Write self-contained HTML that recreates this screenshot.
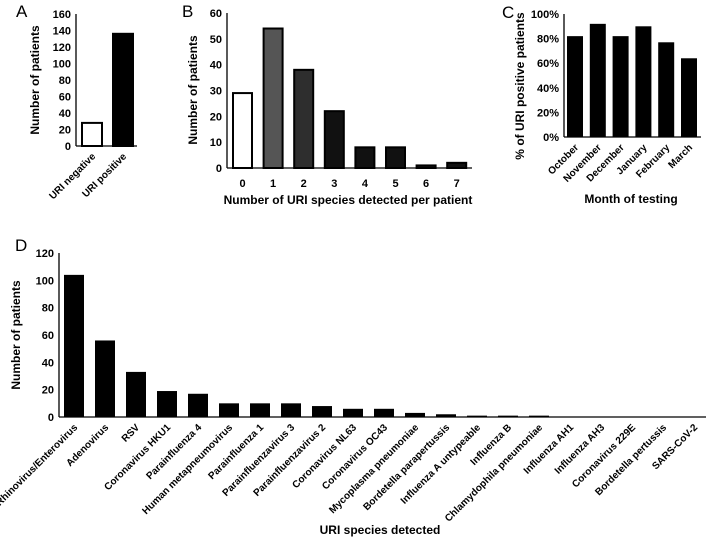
<!DOCTYPE html>
<html><head><meta charset="utf-8"><style>
html,body{margin:0;padding:0;background:#fff;}
svg{display:block;font-family:"Liberation Sans",sans-serif;}
text{fill:#000;}
.t{font-size:10px;font-weight:bold;}
.ty{font-size:11px;font-weight:bold;}
.ttl{font-size:12px;font-weight:bold;}
.pl{font-size:17px;}
</style></head><body>
<svg id="s" width="709" height="542" viewBox="0 0 709 542" xmlns="http://www.w3.org/2000/svg">
<text class="pl" x="16" y="17">A</text>
<text class="pl" x="182" y="17">B</text>
<text class="pl" x="502" y="18">C</text>
<text class="pl" x="15" y="251">D</text>
<g id="gA"></g><g id="gB"></g><g id="gC"></g><g id="gD"></g>
</svg>
<script>
// Panel A
const catsA = ["URI negative","URI positive"];
const valsA = [28,136];
const ticksA = [0,20,40,60,80,100,120,140,160];
// Panel B
const catsB = ["0","1","2","3","4","5","6","7"];
const valsB = [29,54,38,22,8,8,1,2];
const ticksB = [0,10,20,30,40,50,60];
// Panel C
const catsC = ["October","November","December","January","February","March"];
const valsC = [82,92,82,90,77,64];
const ticksC = [0,20,40,60,80,100];
// Panel D
const catsD = ["Rhinovirus/Enterovirus","Adenovirus","RSV","Coronavirus HKU1","Parainfluenza 4","Human metapneumovirus","Parainfluenza 1","Parainfluenzavirus 3","Parainfluenzavirus 2","Coronavirus NL63","Coronavirus OC43","Mycoplasma pneumoniae","Bordetella parapertussis","Influenza A untypeable","Influenza B","Chlamydophila pneumoniae","Influenza AH1","Influenza AH3","Coronavirus 229E","Bordetella pertussis","SARS-CoV-2"];
const valsD = [104,56,33,19,17,10,10,10,8,6,6,3,2,1,1,1,0,0,0,0,0];
const ticksD = [0,20,40,60,80,100,120];

const NS="http://www.w3.org/2000/svg";
function mk(tag,attrs,parent,txt){const e=document.createElementNS(NS,tag);for(const k in attrs)e.setAttribute(k,attrs[k]);if(txt!==undefined)e.textContent=txt;parent.appendChild(e);return e;}

function panel(g,o){
  const y=v=>o.y0-(v-o.min)/(o.max-o.min)*(o.y0-o.y1);
  const ax=mk('line',{x1:o.ax,x2:o.ax,y1:o.y1,y2:o.y0,stroke:'#000','stroke-width':1.3},g);
  
  
  const bx=mk('line',{x1:o.ax,x2:o.axEnd,y1:o.y0,y2:o.y0,stroke:'#000','stroke-width':1.3},g);
  
  
  o.ticks.forEach(t=>{
    const tx=mk('text',{x:o.ax-5,y:y(t)+4,'text-anchor':'end',class:'ty'},g,o.fmt?o.fmt(t):t);
    
    
  });
  o.vals.forEach((v,i)=>{
    const x=o.bx0+i*o.step;
    const r=mk('rect',{x:x,y:y(v),width:o.bw,height:Math.max(0,o.y0-y(v)),fill:o.fill?o.fill(i):'#000',stroke:o.stroke?'#000':'none','stroke-width':o.stroke?2:0},g);
    
    
    const cx=x+o.bw/2;
    let lt;
    if(o.rot){
      lt=mk('text',{x:cx+4,y:o.y0+11,'text-anchor':'end',class:'t',transform:`rotate(-45 ${cx+4} ${o.y0+11})`},g,o.cats[i]);
    } else {
      lt=mk('text',{x:cx,y:o.y0+19,'text-anchor':'middle',class:'ty'},g,o.cats[i]);
    }
    
    
  });
  const yt=mk('text',{x:o.ytx,y:o.yty,'text-anchor':'middle',class:'ttl',transform:`rotate(-90 ${o.ytx} ${o.yty})`},g,o.ytitle);
  if(o.ytsize) yt.setAttribute('font-size',o.ytsize);
  
  
  if(o.xtitle){
    const xt=mk('text',{x:o.xtx,y:o.xty,'text-anchor':'middle',class:'ttl'},g,o.xtitle);
    
    
  }
}
panel(document.getElementById('gA'),{cats:catsA,vals:valsA,ticks:ticksA,min:0,max:160,y0:146,y1:14,ax:76,axEnd:137,bx0:82,step:31,bw:20,stroke:true,fill:i=>i==0?'#fff':'#000',rot:true,ytitle:'Number of patients',ytx:39,yty:80});
panel(document.getElementById('gB'),{cats:catsB,vals:valsB,ticks:ticksB,min:0,max:60,y0:168,y1:13,ax:227,axEnd:472,bx0:233,step:30.6,bw:19,stroke:true,fill:i=>['#fff','#555','#2e2e2e'][i]||'#111',ytitle:'Number of patients',ytx:197,yty:90,xtitle:'Number of URI species detected per patient',xtx:348,xty:204});
panel(document.getElementById('gC'),{cats:catsC,vals:valsC,ticks:ticksC,min:0,max:100,y0:137,y1:14,ax:564,axEnd:701,bx0:567,step:22.8,bw:16,fmt:t=>t+'%',rot:true,ytitle:'% of URI positive patients',ytx:524,yty:86,ytsize:11,xtitle:'Month of testing',xtx:631,xty:203});
panel(document.getElementById('gD'),{cats:catsD,vals:valsD,ticks:ticksD,min:0,max:120,y0:417,y1:253,ax:59,axEnd:706,bx0:64,step:31,bw:20,rot:true,ytitle:'Number of patients',ytx:20,yty:335,xtitle:'URI species detected',xtx:380,xty:534});
</script>
</body></html>
